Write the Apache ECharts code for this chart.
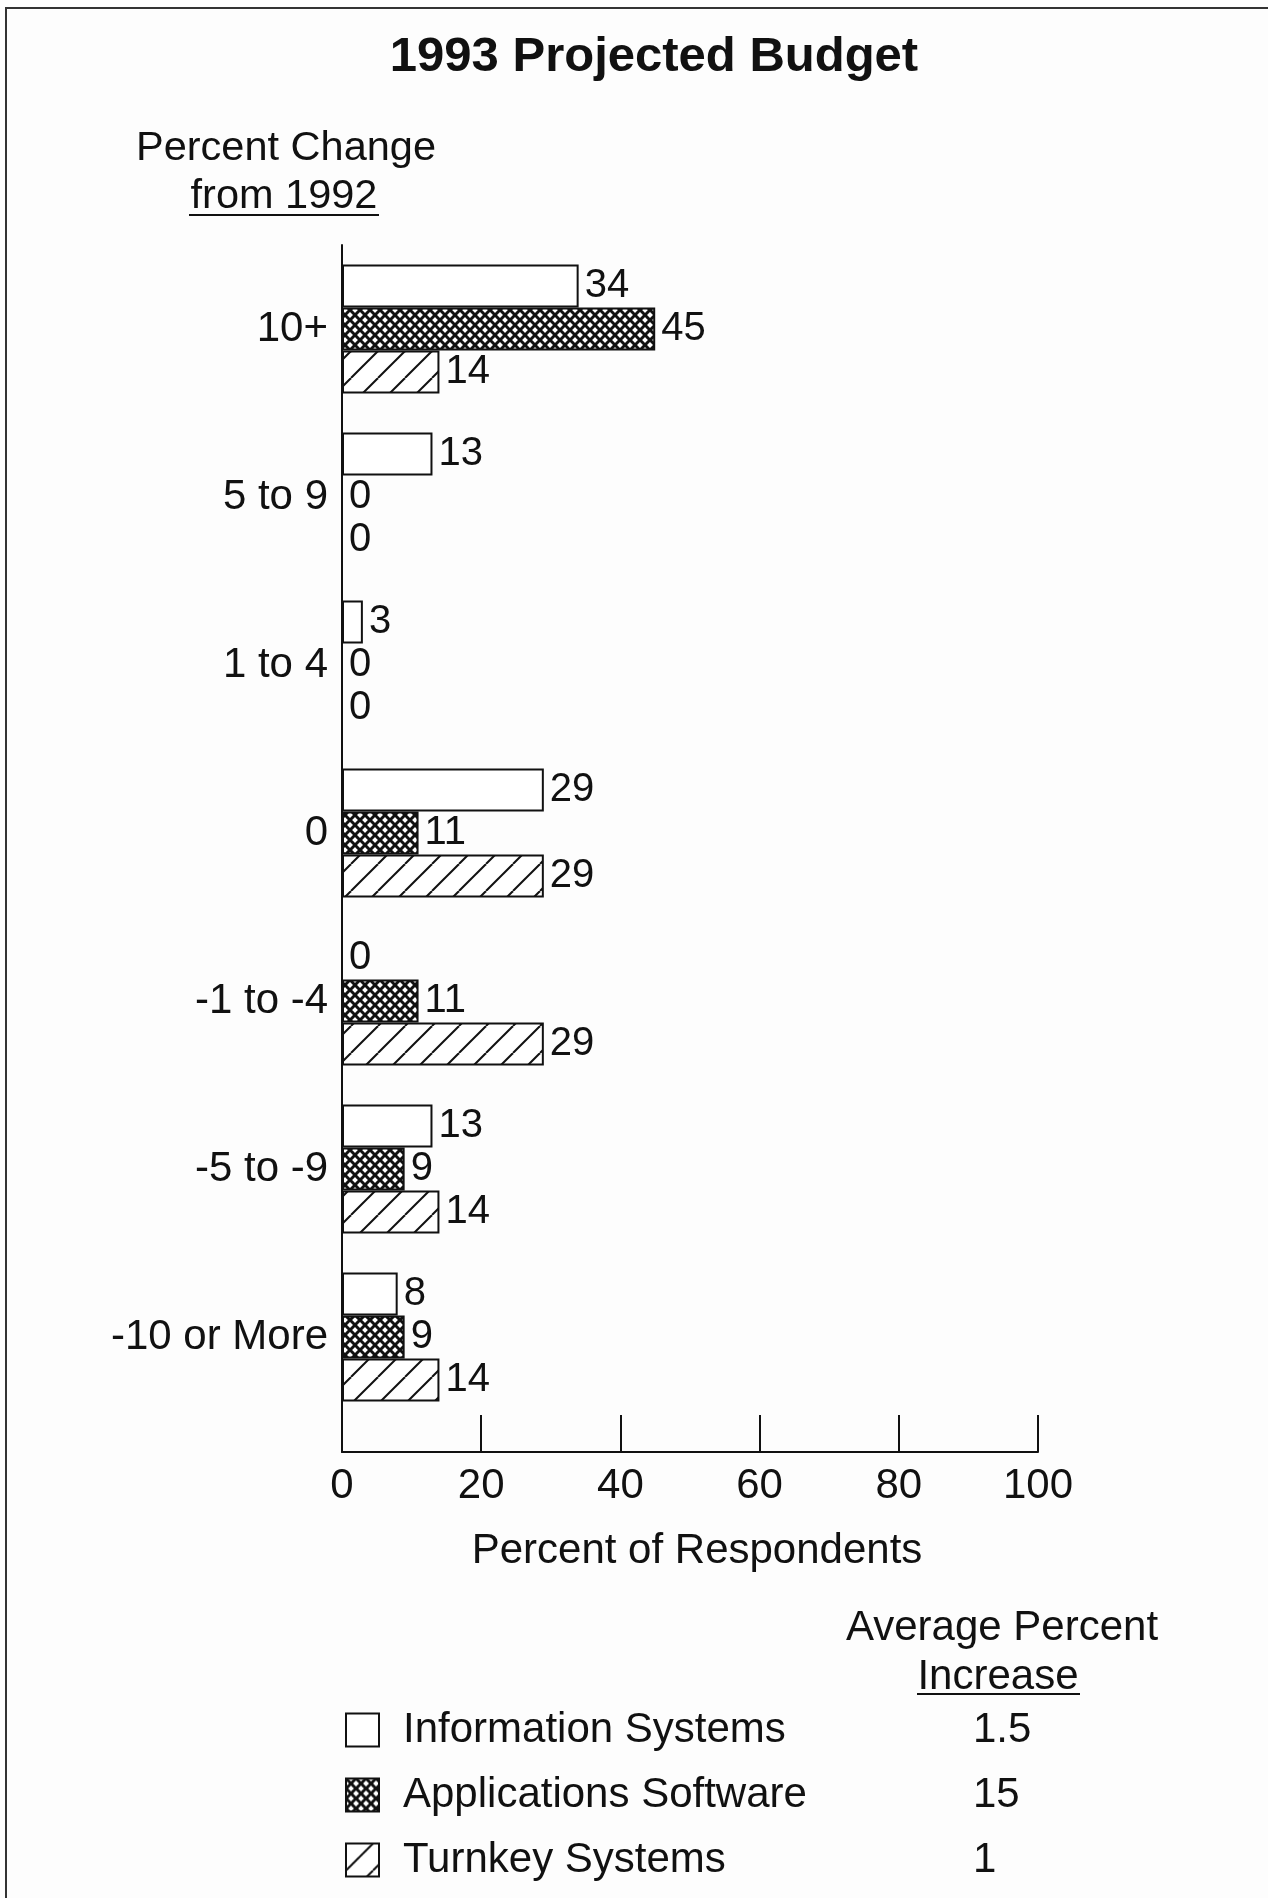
<!DOCTYPE html>
<html><head><meta charset="utf-8">
<script src="https://cdn.jsdelivr.net/npm/echarts@6/dist/echarts.min.js"></script>
<style>html,body{margin:0;padding:0;background:#fff}#c{width:1268px;height:1898px}</style>
</head><body><div id="c"></div>
<script>
const categories = ['10+', '5 to 9', '1 to 4', '0', '-1 to -4', '-5 to -9', '-10 or More'];
const seriesNames = ['Information Systems', 'Applications Software', 'Turnkey Systems'];
const infoSystems = [34, 13, 3, 29, 0, 13, 8];
const appSoftware = [45, 0, 0, 11, 11, 9, 9];
const turnkeySystems = [14, 0, 0, 29, 29, 14, 14];
const avgIncrease = ['1.5', '15', '1'];
const xTicks = [0, 20, 40, 60, 80, 100];

const FONT = '"Liberation Sans", Arial, Helvetica, sans-serif';
const INK = '#111';

function crossPattern() {
  const c = document.createElement('canvas'); c.width = c.height = 10;
  const g = c.getContext('2d');
  g.fillStyle = '#fff'; g.fillRect(0, 0, 10, 10);
  g.strokeStyle = INK; g.lineWidth = 3;
  for (const o of [-10, 0, 10]) {
    g.beginPath(); g.moveTo(o, 0); g.lineTo(o + 10, 10); g.stroke();
    g.beginPath(); g.moveTo(o + 10, 0); g.lineTo(o, 10); g.stroke();
  }
  return c;
}
function slashPattern() {
  const s = 27;
  const c = document.createElement('canvas'); c.width = c.height = s;
  const g = c.getContext('2d');
  g.fillStyle = '#fff'; g.fillRect(0, 0, s, s);
  g.strokeStyle = INK; g.lineWidth = 2;
  for (const o of [-s, 0, s]) {
    g.beginPath(); g.moveTo(o, s); g.lineTo(o + s, 0); g.stroke();
  }
  return c;
}

const fills = ['#ffffff', { image: crossPattern(), repeat: 'repeat' }, { image: slashPattern(), repeat: 'repeat' }];
const datasets = [infoSystems, appSoftware, turnkeySystems];

const series = seriesNames.map((name, i) => ({
  type: 'bar', name, data: datasets[i], xAxisIndex: 1, yAxisIndex: 1,
  barWidth: 43, barGap: '0%',
  itemStyle: { color: fills[i], borderColor: INK, borderWidth: 2 },
  label: { show: true, position: 'right', distance: 6, fontSize: 40, color: INK, fontFamily: FONT },
  emphasis: { disabled: true },
  animation: false
}));

const chart = echarts.init(document.getElementById('c'), null, { renderer: 'canvas' });
chart.setOption({
  backgroundColor: '#fdfdfd',
  animation: false,
  title: {
    text: '1993 Projected Budget', left: 649, top: 28, textAlign: 'center',
    textStyle: { fontFamily: FONT, fontWeight: 'bold', fontSize: 49, color: INK }
  },
  grid: [
    { left: 342, top: 245, width: 696, height: 1207 },
    { left: 342, top: 245, width: 696, height: 1176 }
  ],
  xAxis: [
    {
      gridIndex: 0, type: 'value', min: xTicks[0], max: xTicks[xTicks.length - 1], interval: xTicks[1] - xTicks[0],
      axisLine: { show: true, lineStyle: { color: INK, width: 2 } },
      axisTick: { show: true, inside: true, length: 37, lineStyle: { color: INK, width: 2 } },
      axisLabel: { fontSize: 42, color: INK, fontFamily: FONT, margin: 13 },
      splitLine: { show: false },
      name: 'Percent of Respondents', nameLocation: 'middle', nameGap: 78,
      nameTextStyle: { fontSize: 42, color: INK, fontFamily: FONT, padding: [0, 0, 0, 14] }
    },
    { gridIndex: 1, type: 'value', min: xTicks[0], max: xTicks[xTicks.length - 1], show: false }
  ],
  yAxis: [
    {
      gridIndex: 0, type: 'value', min: 0, max: 1,
      axisLine: { show: true, lineStyle: { color: INK, width: 2 } },
      axisTick: { show: false }, axisLabel: { show: false }, splitLine: { show: false }
    },
    {
      gridIndex: 1, type: 'category', data: categories, inverse: true,
      axisLine: { show: false }, axisTick: { show: false },
      axisLabel: { fontSize: 42, color: INK, fontFamily: FONT, margin: 14 }
    }
  ],
  legend: {
    orient: 'vertical', left: 340, top: 1704, itemWidth: 33, itemHeight: 33, itemGap: 23,
    icon: 'rect', selectedMode: false, data: seriesNames,
    itemStyle: { borderColor: INK, borderWidth: 2 },
    formatter: name => `{n|${name}}{v|${avgIncrease[seriesNames.indexOf(name)]}}`,
    textStyle: {
      fontSize: 42, color: INK, fontFamily: FONT, lineHeight: 42,
      rich: {
        n: { width: 570, fontSize: 42, color: INK, fontFamily: FONT, padding: [0, 0, 0, 19] },
        v: { fontSize: 42, color: INK, fontFamily: FONT, align: 'left' }
      }
    }
  },
  graphic: [
    { type: 'line', shape: { x1: 5, y1: 8, x2: 1268, y2: 8 }, style: { stroke: '#333', lineWidth: 2 } },
    { type: 'line', shape: { x1: 6, y1: 8, x2: 6, y2: 1898 }, style: { stroke: '#333', lineWidth: 2 } },
    { type: 'text', x: 286, y: 149, style: { text: 'Percent Change', fontSize: 41.5, fontFamily: FONT, fill: INK, textAlign: 'center', textVerticalAlign: 'middle' } },
    { type: 'text', x: 284, y: 197, style: { text: 'from 1992', fontSize: 41.5, fontFamily: FONT, fill: INK, textAlign: 'center', textVerticalAlign: 'middle' } },
    { type: 'line', shape: { x1: 189, y1: 215, x2: 379, y2: 215 }, style: { stroke: INK, lineWidth: 2 } },
    { type: 'text', x: 1002, y: 1628, style: { text: 'Average Percent', fontSize: 42, fontFamily: FONT, fill: INK, textAlign: 'center', textVerticalAlign: 'middle' } },
    { type: 'text', x: 998, y: 1677, style: { text: 'Increase', fontSize: 42, fontFamily: FONT, fill: INK, textAlign: 'center', textVerticalAlign: 'middle' } },
    { type: 'line', shape: { x1: 917, y1: 1694, x2: 1080, y2: 1694 }, style: { stroke: INK, lineWidth: 2 } }
  ],
  series
});
</script>
</body></html>
